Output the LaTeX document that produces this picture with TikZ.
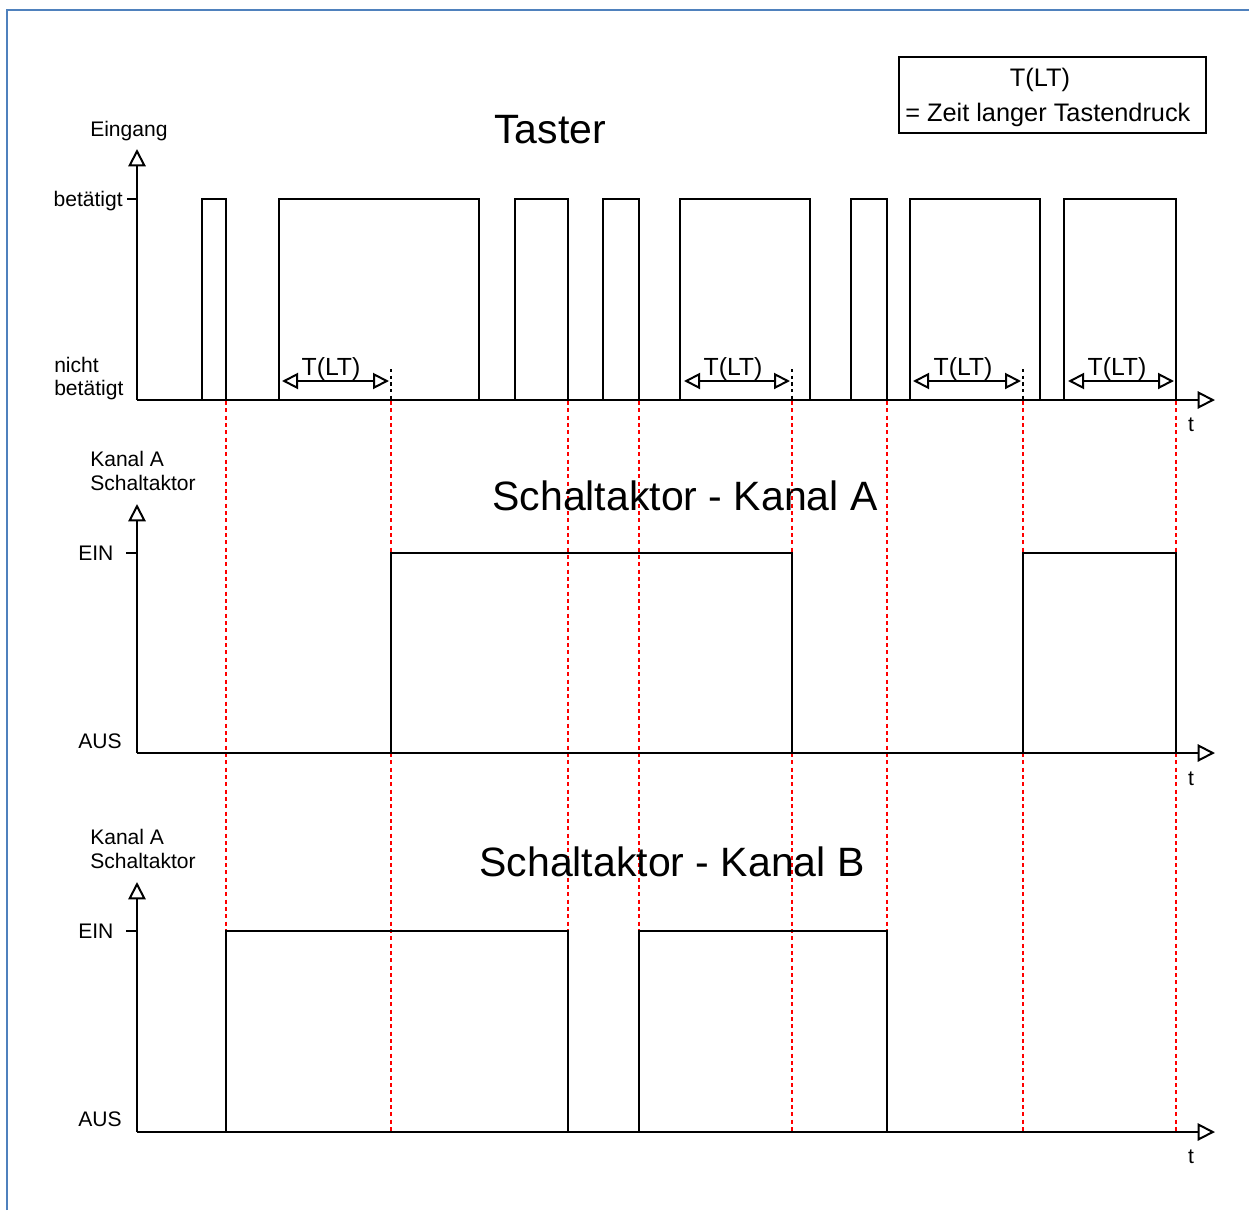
\documentclass[tikz,border=0pt]{standalone}
\usepackage{fontspec}
\setmainfont{Liberation Sans}
\usetikzlibrary{arrows.meta}
\definecolor{frameblue}{HTML}{4F81BD}
\definecolor{markred}{HTML}{FF0000}
\begin{document}
\begin{tikzpicture}[x=0.75pt,y=-0.75pt,
  frame/.style={line width=1.5pt, frameblue},
  sig/.style={line width=1.9pt, black},
  axis/.style={line width=1.9pt, black, -{Triangle[open,length=13pt,width=13pt,line width=1.5pt]}},
  tlt/.style={line width=1.6pt, black, {Triangle[open,length=12pt,width=12pt,line width=1.5pt]}-{Triangle[open,length=12pt,width=12pt,line width=1.5pt]}},
  marker/.style={line width=1.6pt, markred, dash pattern=on 3pt off 2.5pt},
  blackdash/.style={line width=1.5pt, black, dash pattern=on 2.5pt off 2.5pt},
  lbl/.style={inner sep=0pt, font=\fontsize{15.8}{18}\selectfont},
  mid/.style={inner sep=0pt, font=\fontsize{18.6}{21}\selectfont},
  legtext/.style={inner sep=0pt, font=\fontsize{19}{22}\selectfont},
  title/.style={inner sep=0pt, font=\fontsize{30.75}{36}\selectfont},
  legend/.style={draw, line width=1.4pt, minimum width=230pt, minimum height=57pt, inner sep=0pt}
]
\useasboundingbox (0,0) rectangle (1249,1210);
% frame
\draw[frame] (7,1210) -- (7,10) -- (1249,10);

% legend
\node[legend] (leg) at (1052.5,95) {};
\node[legtext, anchor=base] (legA) at (1040,86) {T(LT)};
\node[legtext, anchor=base west] (legB) at (905,121) {= Zeit langer Tastendruck};

% origins
\coordinate (o1) at (137,400);
\coordinate (o2) at (137,753);
\coordinate (o3) at (137,1132);
\coordinate (x1) at (1215,400);
\coordinate (x2) at (1215,753);
\coordinate (x3) at (1215,1132);
\coordinate (y1) at (137,149);
\coordinate (y2) at (137,504);
\coordinate (y3) at (137,882);

% red markers
\foreach \x in {226,391,568,639,792,887,1023,1176}{
  \draw[marker] (\x,401) -- (\x,1132);
}

% ---------- Taster ----------
\node[title, anchor=base] (t1) at (550,143) {Taster};
\node[lbl, anchor=base west] (yl1) at (90,136) {Eingang};
\node[lbl, anchor=base east] (hi1) at (123,206) {betätigt};
\node[lbl, anchor=base west] (lo1a) at (54,372) {nicht};
\node[lbl, anchor=base west] (lo1b) at (54,395) {betätigt};
\draw[sig] (127,199) -- (137,199);
\foreach \a/\b in {202/226,279/479,515/568,603/639,680/810,851/887,910/1040,1064/1176}{
  \draw[sig] (\a,400) |- (\b,199) -- (\b,400);
}
\draw[axis] (o1) -- (y1);
\draw[axis] (o1) -- (x1);
\node[lbl, anchor=base] (tx1) at (1191,431) {t};
% T(LT) arrows
\foreach \a/\b/\c in {282/389/391,684/790/792,913/1021/1023}{
  \draw[blackdash] (\c,369) -- (\c,400);
  \draw[tlt] (\a,381) -- (\b,381);
}
\draw[tlt] (1068,381) -- (1174,381);
\node[mid, anchor=base] (m1) at (331,375) {T(LT)};
\node[mid, anchor=base] (m2) at (733,375) {T(LT)};
\node[mid, anchor=base] (m3) at (963,375) {T(LT)};
\node[mid, anchor=base] (m4) at (1117,375) {T(LT)};

% ---------- Kanal A ----------
\node[title, anchor=base] (t2) at (685,510) {Schaltaktor - Kanal A};
\node[lbl, anchor=base west] (yl2a) at (90,466) {Kanal A};
\node[lbl, anchor=base west] (yl2b) at (90,490) {Schaltaktor};
\node[lbl, anchor=base west] (hi2) at (78,560) {EIN};
\node[lbl, anchor=base west] (lo2) at (78,748) {AUS};
\draw[sig] (126,553) -- (137,553);
\foreach \a/\b in {391/792,1023/1176}{
  \draw[sig] (\a,753) |- (\b,553) -- (\b,753);
}
\draw[axis] (o2) -- (y2);
\draw[axis] (o2) -- (x2);
\node[lbl, anchor=base] (tx2) at (1191,785) {t};

% ---------- Kanal B ----------
\node[title, anchor=base] (t3) at (672,876) {Schaltaktor - Kanal B};
\node[lbl, anchor=base west] (yl3a) at (90,844) {Kanal A};
\node[lbl, anchor=base west] (yl3b) at (90,868) {Schaltaktor};
\node[lbl, anchor=base west] (hi3) at (78,938) {EIN};
\node[lbl, anchor=base west] (lo3) at (78,1126) {AUS};
\draw[sig] (126,931) -- (137,931);
\foreach \a/\b in {226/568,639/887}{
  \draw[sig] (\a,1132) |- (\b,931) -- (\b,1132);
}
\draw[axis] (o3) -- (y3);
\draw[axis] (o3) -- (x3);
\node[lbl, anchor=base] (tx3) at (1191,1163) {t};
\end{tikzpicture}
\end{document}
